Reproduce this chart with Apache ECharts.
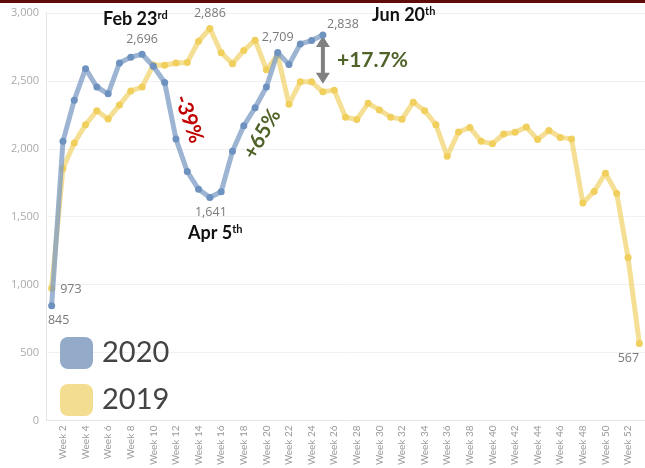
<!DOCTYPE html>
<html>
<head>
    <meta charset="utf-8">
    <title>Weekly 2019 vs 2020</title>
    <script src="https://cdn.jsdelivr.net/npm/echarts@6/dist/echarts.min.js"></script>
    <style>
        html, body { margin: 0; padding: 0; background: #fff; }
        #main { width: 645px; height: 468px; }
    </style>
</head>
<body>
<div id="main"></div>

<script type="text/javascript">
    // data
    var weeks = ['Week 1', 'Week 2', 'Week 3', 'Week 4', 'Week 5', 'Week 6', 'Week 7', 'Week 8', 'Week 9', 'Week 10',
        'Week 11', 'Week 12', 'Week 13', 'Week 14', 'Week 15', 'Week 16', 'Week 17', 'Week 18', 'Week 19', 'Week 20',
        'Week 21', 'Week 22', 'Week 23', 'Week 24', 'Week 25', 'Week 26', 'Week 27', 'Week 28', 'Week 29', 'Week 30',
        'Week 31', 'Week 32', 'Week 33', 'Week 34', 'Week 35', 'Week 36', 'Week 37', 'Week 38', 'Week 39', 'Week 40',
        'Week 41', 'Week 42', 'Week 43', 'Week 44', 'Week 45', 'Week 46', 'Week 47', 'Week 48', 'Week 49', 'Week 50',
        'Week 51', 'Week 52', 'Week 53'];

    var values2020 = [845, 2055, 2358, 2590, 2455, 2405, 2632, 2675, 2696, 2608,
        2488, 2072, 1832, 1702, 1641, 1684, 1982, 2170, 2302, 2455,
        2709, 2620, 2772, 2797, 2838];

    var values2019 = [973, 1855, 2043, 2177, 2280, 2220, 2322, 2426, 2455, 2618,
        2615, 2632, 2636, 2792, 2886, 2707, 2627, 2724, 2800, 2582,
        2690, 2328, 2493, 2493, 2420, 2432, 2233, 2215, 2335, 2286,
        2233, 2218, 2343, 2281, 2177, 1946, 2124, 2157, 2055, 2038,
        2109, 2121, 2160, 2068, 2135, 2084, 2073, 1601, 1686, 1820,
        1671, 1199, 567];

    var yTicks = [0, 500, 1000, 1500, 2000, 2500, 3000];

    // which points carry a value label, and where
    var labels2020 = {
        0: {position: 'bottom', offset: [7, 0]},
        8: {position: 'top', offset: [0, 0]},
        14: {position: 'bottom', offset: [1, 0]},
        20: {position: 'top', offset: [0, 0]},
        24: {position: 'top', offset: [20, 4]}
    };
    var labels2019 = {
        0: {position: 'right', offset: [0, 1]},
        14: {position: 'top', offset: [0, 0]},
        52: {position: 'bottom', offset: [-11, 0]}
    };

    function fmt(v) {
        return Number(v).toLocaleString('en-US');
    }

    function buildData(values, labelMap) {
        return values.map(function (v, i) {
            var item = {value: v};
            if (labelMap[i]) {
                item.label = {
                    show: true,
                    position: labelMap[i].position,
                    offset: labelMap[i].offset,
                    formatter: function (p) { return fmt(p.value); },
                    color: '#7a7a7a',
                    fontSize: 12.5,
                    fontFamily: 'Open Sans'
                };
            }
            return item;
        });
    }

    var option = {
        animation: false,
        backgroundColor: '#fff',
        grid: {left: 46, right: 0, top: 13, bottom: 44},
        legend: {
            data: ['2020', '2019'],
            orient: 'vertical',
            left: 60,
            top: 337,
            padding: 0,
            itemWidth: 33,
            itemHeight: 32,
            itemGap: 15,
            icon: 'roundRect',
            textStyle: {fontSize: 29, color: '#444', fontFamily: 'Lato', padding: [0, 0, 0, 4]}
        },
        xAxis: {
            type: 'category',
            data: weeks,
            boundaryGap: true,
            axisLine: {lineStyle: {color: '#e6e6e6'}},
            axisTick: {show: false},
            axisLabel: {
                rotate: 90,
                fontSize: 10,
                color: '#9a9a9a',
                margin: 5,
                fontFamily: 'Lato',
                interval: function (index) { return index % 2 === 1; }
            }
        },
        yAxis: {
            type: 'value',
            min: yTicks[0],
            max: yTicks[yTicks.length - 1],
            interval: 500,
            axisLine: {show: true, lineStyle: {color: '#e6e6e6'}},
            axisTick: {show: false},
            splitLine: {lineStyle: {color: '#f0f0f0'}},
            axisLabel: {
                formatter: fmt,
                fontSize: 11,
                color: '#aaaaaa',
                margin: 7,
                fontFamily: 'Open Sans'
            }
        },
        series: [
            {
                name: '2019',
                type: 'line',
                data: buildData(values2019, labels2019),
                symbol: 'circle',
                symbolSize: 7,
                color: '#f3dc8e',
                itemStyle: {color: '#f0cf5c'},
                lineStyle: {width: 5, color: '#f1d470', opacity: 0.75},
                z: 2
            },
            {
                name: '2020',
                type: 'line',
                data: buildData(values2020, labels2020),
                symbol: 'circle',
                symbolSize: 7,
                color: '#93abc9',
                itemStyle: {color: '#6e92bf'},
                lineStyle: {width: 5, color: '#7c9cc4', opacity: 0.75},
                z: 3
            }
        ]
    };

    var myChart = echarts.init(document.getElementById('main'), null, {renderer: 'canvas'});
    myChart.setOption(option);

    // legend swatch colours differ from the line colours
    myChart.setOption({
        legend: {
            data: [
                {name: '2020', itemStyle: {color: '#93abc9'}},
                {name: '2019', itemStyle: {color: '#f3dd90'}}
            ]
        }
    });

    // annotations
    var ax = myChart.convertToPixel({xAxisIndex: 0}, 'Week 25');
    var yTop = myChart.convertToPixel({yAxisIndex: 0}, values2020[24]) + 1;
    var yBot = myChart.convertToPixel({yAxisIndex: 0}, values2019[24]) - 8;
    var head = 10, halfW = 7, shaft = 2;

    var annoFont = 'Lato';
    myChart.setOption({
        graphic: [
            {type: 'rect', shape: {x: 0, y: 0, width: 645, height: 3}, style: {fill: '#5e0b0b'}, z: 100},
            {
                type: 'text', left: 103, top: 10,
                style: {
                    text: '{b|Feb 23}{s|rd}',
                    rich: {
                        b: {fontSize: 18, fontWeight: 'bold', fill: '#111', fontFamily: annoFont},
                        s: {fontSize: 11, fontWeight: 'bold', fill: '#111', fontFamily: annoFont, verticalAlign: 'top'}
                    }
                }
            },
            {
                type: 'text', left: 188, top: 224,
                style: {
                    text: '{b|Apr 5}{s|th}',
                    rich: {
                        b: {fontSize: 18, fontWeight: 'bold', fill: '#111', fontFamily: annoFont},
                        s: {fontSize: 11, fontWeight: 'bold', fill: '#111', fontFamily: annoFont, verticalAlign: 'top'}
                    }
                }
            },
            {
                type: 'text', left: 372, top: 6,
                style: {
                    text: '{b|Jun 20}{s|th}',
                    rich: {
                        b: {fontSize: 18, fontWeight: 'bold', fill: '#111', fontFamily: annoFont},
                        s: {fontSize: 11, fontWeight: 'bold', fill: '#111', fontFamily: annoFont, verticalAlign: 'top'}
                    }
                }
            },
            {
                type: 'text', x: 189, y: 119, rotation: -71 * Math.PI / 180,
                style: {
                    text: '-39%', fill: '#c00000', fontSize: 21, fontWeight: 'bold',
                    fontFamily: annoFont, align: 'center', verticalAlign: 'middle'
                }
            },
            {
                type: 'text', x: 262, y: 134, rotation: 60 * Math.PI / 180,
                style: {
                    text: '+65%', fill: '#4f6228', fontSize: 21, fontWeight: 'bold',
                    fontFamily: annoFont, align: 'center', verticalAlign: 'middle'
                }
            },
            {
                type: 'text', left: 337, top: 50,
                style: {
                    text: '+17.7%', fill: '#4f6228', fontSize: 21, fontWeight: 'bold', fontFamily: annoFont
                }
            },
            {
                type: 'group', z: 50,
                children: [
                    {
                        type: 'rect',
                        shape: {x: ax - shaft, y: yTop + head, width: shaft * 2, height: yBot - yTop - head * 2},
                        style: {fill: '#808080'}
                    },
                    {
                        type: 'polygon',
                        shape: {points: [[ax, yTop], [ax - halfW, yTop + head + 1], [ax + halfW, yTop + head + 1]]},
                        style: {fill: '#808080'}
                    },
                    {
                        type: 'polygon',
                        shape: {points: [[ax, yBot], [ax - halfW, yBot - head - 1], [ax + halfW, yBot - head - 1]]},
                        style: {fill: '#808080'}
                    }
                ]
            }
        ]
    });
</script>
</body>
</html>
